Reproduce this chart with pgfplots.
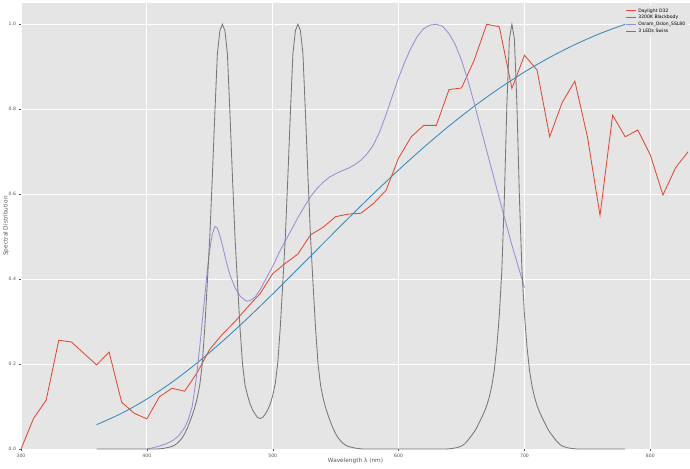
\documentclass[border=0pt]{standalone}
\usepackage{fontspec}
\setmainfont{DejaVu Sans}
\usepackage{pgfplots}
\usepackage{pgfplotstable}
\pgfplotsset{compat=1.18}
\definecolor{ggred}{HTML}{E24A33}
\definecolor{ggblue}{HTML}{348ABD}
\definecolor{ggpurple}{HTML}{988ED5}
\definecolor{gggray}{HTML}{777777}
\definecolor{bggray}{HTML}{E5E5E5}
\definecolor{tickgray}{HTML}{555555}

\pgfplotstableread{
x y
300 0.000
310 0.072
320 0.115
330 0.256
340 0.252
350 0.225
360 0.198
370 0.228
380 0.110
390 0.084
400 0.071
410 0.123
420 0.143
430 0.136
440 0.180
450 0.235
460 0.270
470 0.300
480 0.334
490 0.366
500 0.413
510 0.437
520 0.459
530 0.504
540 0.522
550 0.547
560 0.553
570 0.555
580 0.578
590 0.609
600 0.685
610 0.735
620 0.762
630 0.762
640 0.846
650 0.850
660 0.915
670 1.000
680 0.994
690 0.849
700 0.927
710 0.892
720 0.735
730 0.816
740 0.866
750 0.735
760 0.550
770 0.786
780 0.735
790 0.751
800 0.692
810 0.598
820 0.662
830 0.700
}\daylight

\pgfplotstableread{
x y
360 0.0571
380 0.0841
400 0.1176
420 0.1574
440 0.2029
460 0.2534
480 0.3078
500 0.3651
520 0.4240
540 0.4837
560 0.5430
580 0.6010
600 0.6570
620 0.7102
640 0.7603
660 0.8067
680 0.8491
700 0.8876
720 0.9218
740 0.9520
760 0.9780
780 1.0000
}\blackbody

\pgfplotstableread{
x y
400 0.000
405 0.003
410 0.007
415 0.012
420 0.019
425 0.030
430 0.050
433 0.070
436 0.100
439 0.160
442 0.240
445 0.330
448 0.420
450 0.470
452 0.506
454 0.524
456 0.520
458 0.502
460 0.480
463 0.442
466 0.410
470 0.380
474 0.360
478 0.350
480 0.348
483 0.351
486 0.358
490 0.375
495 0.403
500 0.430
505 0.462
510 0.490
515 0.517
520 0.545
525 0.570
530 0.594
535 0.613
540 0.628
545 0.640
550 0.648
555 0.655
560 0.661
565 0.669
570 0.680
575 0.695
580 0.716
585 0.747
590 0.787
595 0.831
600 0.874
605 0.912
610 0.945
615 0.972
620 0.990
625 0.998
630 1.000
635 0.995
640 0.978
645 0.952
650 0.915
655 0.868
660 0.815
665 0.758
670 0.702
675 0.646
680 0.590
685 0.535
690 0.480
695 0.430
700 0.380
}\osram

\pgfplotstableread{
x y
360 0.000
400 0.000
408 0.000
412 0.001
416 0.003
420 0.006
422 0.009
424 0.013
426 0.019
428 0.026
430 0.036
432 0.048
434 0.063
436 0.079
438 0.097
440 0.120
442 0.150
444 0.200
446 0.285
448 0.390
450 0.500
452 0.640
454 0.790
456 0.930
458 0.985
460 1.000
462 0.985
464 0.930
466 0.790
468 0.640
470 0.500
472 0.390
474 0.285
476 0.200
478 0.150
480 0.126
482 0.106
484 0.092
486 0.082
488 0.074
490 0.072
492 0.074
494 0.082
496 0.092
498 0.106
500 0.126
502 0.154
504 0.203
506 0.287
508 0.391
510 0.500
512 0.640
514 0.790
516 0.930
518 0.985
520 1.000
522 0.985
524 0.930
526 0.790
528 0.640
530 0.500
532 0.390
534 0.285
536 0.200
538 0.150
540 0.120
542 0.097
544 0.079
546 0.063
548 0.048
550 0.036
552 0.026
554 0.019
556 0.013
558 0.009
560 0.006
564 0.003
568 0.001
572 0.000
638 0.000
642 0.001
646 0.003
650 0.007
652 0.011
654 0.017
656 0.024
658 0.032
660 0.040
662 0.050
664 0.062
666 0.074
668 0.087
670 0.102
672 0.122
674 0.148
676 0.185
678 0.240
680 0.315
682 0.420
684 0.590
686 0.810
688 0.965
690 1.000
692 0.965
694 0.810
696 0.590
698 0.420
700 0.315
702 0.240
704 0.185
706 0.148
708 0.122
710 0.102
712 0.087
714 0.074
716 0.062
718 0.050
720 0.040
722 0.032
724 0.024
726 0.017
728 0.011
730 0.007
734 0.003
738 0.001
742 0.000
780 0.000
}\leds

\begin{document}
\begin{tikzpicture}
\begin{axis}[
  at={(0,0)}, anchor=south west,
  scale only axis, width=669bp, height=446bp,
  xmin=300, xmax=831.5, ymin=0, ymax=1.05,
  axis background/.style={fill=bggray},
  axis line style={draw=none},
  grid=major, grid style={white, line width=0.8bp},
  xtick={300,400,500,600,700,800},
  ytick={0,0.2,0.4,0.6,0.8,1.0},
  xtick pos=lower, ytick pos=left,
  tick align=outside, major tick length=2bp,
  tick style={color=tickgray, line width=0.4bp},
  /pgf/number format/assume math mode=true,
  yticklabel style={/pgf/number format/fixed, /pgf/number format/fixed zerofill, /pgf/number format/precision=1, xshift=0.5bp},
  tick label style={font=\fontsize{4.6}{5}\selectfont, color=tickgray},
  xticklabel style={yshift=0.5bp},
  xlabel={Wavelength λ (nm)},
  ylabel={Spectral Distribution},
  label style={font=\fontsize{5.8}{6.5}\selectfont, color=tickgray},
  xlabel style={at={(axis description cs:0.5,-0.027)}, anchor=center},
  ylabel style={at={(axis description cs:-0.0225,0.5)}, anchor=center},
  legend style={at={(axis description cs:1,1)}, anchor=north east,
    xshift=-1.5bp, yshift=-3bp,
    font=\fontsize{4.6}{5}\selectfont, draw=none, fill=bggray,
    row sep=0.4bp, inner xsep=1.5bp, inner ysep=1.5bp,
    nodes={inner xsep=1.5bp, inner ysep=0.9bp, text height=3.5bp, text depth=1bp}},
  legend cell align=left,
  legend image code/.code={\draw[#1] (0bp,0bp) -- (10bp,0bp);},
  every axis plot/.append style={line width=0.85bp},
]
\addplot[ggred] table[x=x,y=y] {\daylight};
\addlegendentry{Daylight D32}
\addplot[ggblue, smooth] table[x=x,y=y] {\blackbody};
\addlegendentry{3200K Blackbody}
\addplot[ggpurple] table[x=x,y=y] {\osram};
\addlegendentry{Osram\_Oslon\_SSL80}
\addplot[gggray] table[x=x,y=y] {\leds};
\addlegendentry{3 LEDs Swiss}
\end{axis}
\pgfresetboundingbox
\path[use as bounding box] (-21bp,-20bp) rectangle (669bp,449bp);
\end{tikzpicture}
\end{document}
